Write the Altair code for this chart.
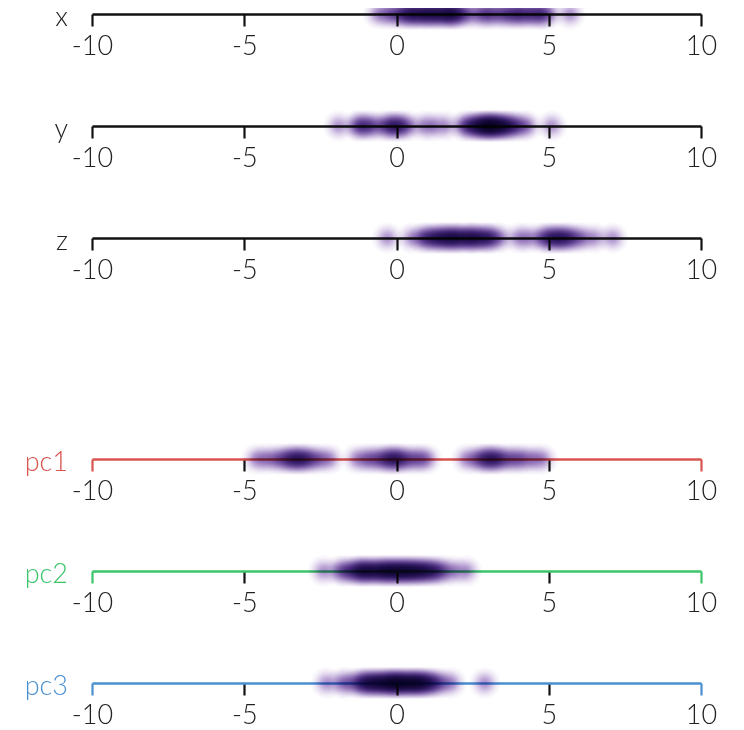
import altair as alt
import pandas as pd

# ---- data ----
row_names = ["x", "y", "z", "pc1", "pc2", "pc3"]
tick_values = [-10, -5, 0, 5, 10]

x_vals = [-0.6, -0.3, -0.1, 0.1, 0.2, 0.4, 0.5, 0.6, 0.7, 0.9, 1.0, 1.2, 1.4, 1.7, 2.0,
          0.4, 0.8, 1.0, 1.2, 1.3, 1.5, 1.6, 1.7, 1.8, 1.9, 2.0, 2.2, 2.4, 2.7, 3.0,
          2.9, 3.2, 3.4, 3.6, 3.7, 3.9, 4.0, 4.1, 4.3, 4.4, 4.6, 4.7, 4.8, 5.0, 5.7]
y_vals = [-1.9, -1.3, -1.2, -1.1, -0.9, -0.8, -0.5, -0.3, -0.2, -0.1, 0.0, 0.1, 0.2, 0.4, 0.9,
          1.6, 2.2, 2.5, 2.6, 2.8, 2.9, 3.0, 3.1, 3.2, 3.3, 3.4, 3.5, 3.7, 3.9, 4.3,
          1.2, 2.3, 2.5, 2.7, 2.8, 2.9, 3.0, 3.1, 3.2, 3.3, 3.5, 3.6, 3.8, 4.1, 5.1]
z_vals = [-0.3, 0.5, 0.9, 1.1, 1.2, 1.4, 1.5, 1.6, 1.8, 1.9, 2.0, 2.2, 2.4, 2.6, 3.0,
          0.9, 1.3, 1.6, 1.8, 2.0, 2.2, 2.4, 2.5, 2.6, 2.8, 2.9, 3.0, 3.2, 3.4, 4.0,
          4.3, 4.7, 4.9, 5.0, 5.1, 5.2, 5.3, 5.4, 5.5, 5.6, 5.7, 5.9, 6.1, 6.5, 7.1]
pc1_vals = [-4.6, -4.3, -4.0, -3.8, -3.6, -3.5, -3.4, -3.3, -3.2, -3.1, -3.0, -2.9, -2.7, -2.5, -2.2,
            -1.3, -1.0, -0.8, -0.6, -0.4, -0.3, -0.2, -0.1, 0.0, 0.1, 0.2, 0.4, 0.6, 0.8, 1.0,
            2.3, 2.6, 2.8, 2.9, 3.0, 3.1, 3.2, 3.3, 3.4, 3.6, 3.8, 4.0, 4.2, 4.5, 4.8]
pc2_vals = [-2.4, -1.6, -1.3, -1.1, -0.9, -0.7, -0.5, -0.3, -0.1, 0.1, 0.3, 0.5, 0.8, 1.1, 1.6,
            -1.9, -1.4, -1.2, -0.9, -0.6, -0.4, -0.2, 0.0, 0.2, 0.4, 0.6, 0.8, 1.0, 1.3, 2.3,
            -1.7, -1.2, -1.0, -0.8, -0.5, -0.3, -0.1, 0.1, 0.3, 0.5, 0.7, 0.9, 1.2, 1.4, 1.9]
pc3_vals = [-2.3, -1.3, -1.0, -0.8, -0.6, -0.4, -0.2, 0.0, 0.1, 0.3, 0.5, 0.7, 0.9, 1.2, 1.8,
            -1.6, -1.1, -0.9, -0.7, -0.5, -0.3, -0.1, 0.0, 0.2, 0.4, 0.6, 0.8, 1.0, 1.3, 2.9,
            -1.8, -1.2, -0.9, -0.6, -0.4, -0.2, -0.1, 0.1, 0.3, 0.4, 0.6, 0.7, 0.9, 1.1, 1.5]

row_values = [x_vals, y_vals, z_vals, pc1_vals, pc2_vals, pc3_vals]
axis_colors = ["#111111", "#111111", "#111111", "#d9534f", "#3cc46b", "#4a8fd0"]
label_colors = ["#222222", "#222222", "#222222", "#d9534f", "#3cc46b", "#4a8fd0"]
row_heights = [6, 6, 6, 115, 6, 6]

FONT = "Lato"
blob = alt.RadialGradient(
    gradient="radial",
    stops=[
        alt.GradientStop(offset=0, color="rgba(80,20,150,0.46)"),
        alt.GradientStop(offset=0.2, color="rgba(80,20,150,0.41)"),
        alt.GradientStop(offset=0.4, color="rgba(80,20,150,0.28)"),
        alt.GradientStop(offset=0.6, color="rgba(80,20,150,0.14)"),
        alt.GradientStop(offset=0.8, color="rgba(80,20,150,0.05)"),
        alt.GradientStop(offset=1, color="rgba(80,20,150,0)"),
    ],
)


def row_chart(name, values, axis_color, label_color, h):
    df = pd.DataFrame({"v": values})
    axis = alt.Axis(
        values=tick_values,
        title=None,
        orient="bottom",
        grid=False,
        domainColor=axis_color,
        domainWidth=2.5,
        tickColor={
            "condition": {"test": "abs(datum.value) == 10", "value": axis_color},
            "value": "#111111",
        },
        tickWidth=2.2,
        tickSize=12,
        labelFont=FONT,
        labelFontSize=27,
        labelFontWeight=300,
        labelColor="#222222",
        labelPadding=7,
        labelFlush=False,
        labelOverlap=False,
        labelExpr="toString(datum.value)",
    )
    pts = alt.Chart(df).mark_point(
        shape="circle", filled=True, size=1100, opacity=1, fill=blob,
        strokeWidth=0, blend="multiply",
    ).encode(
        x=alt.X("v:Q", scale=alt.Scale(domain=[-10, 10], nice=False, zero=False), axis=axis),
        y=alt.value(h),
    )
    lab = alt.Chart(pd.DataFrame({"t": [name]})).mark_text(
        align="right", baseline="alphabetic", font=FONT, fontSize=27,
        fontWeight=300, color=label_color,
    ).encode(x=alt.value(-24), y=alt.value(h + 12), text="t:N")
    return alt.layer(pts, lab).properties(width=609, height=h)


charts = [row_chart(n, v, ac, lc, h) for n, v, ac, lc, h in
          zip(row_names, row_values, axis_colors, label_colors, row_heights)]

chart = alt.vconcat(*charts, spacing=106, bounds="flush").properties(
    padding={"top": -11, "left": 16, "right": 0, "bottom": 0}
).configure_view(stroke=None)

chart.save("out.html", embed_options={"renderer": "svg", "actions": False})
